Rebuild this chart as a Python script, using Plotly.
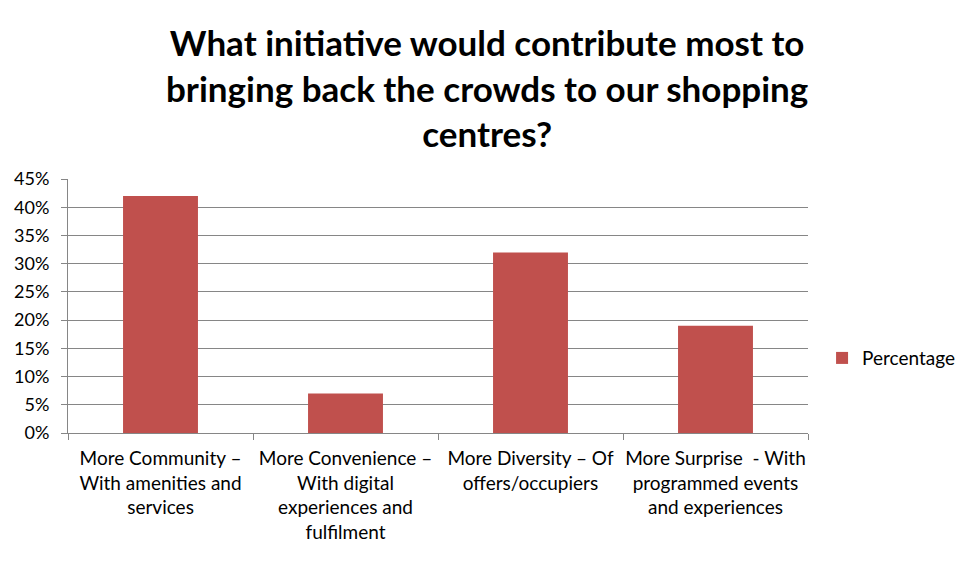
import plotly.graph_objects as go

categories = [
    "More Community –<br>With amenities and<br>services",
    "More Convenience –<br>With digital<br>experiences and<br>fulfilment",
    "More Diversity – Of<br>offers/occupiers",
    "More Surprise  - With<br>programmed events<br>and experiences",
]
values = [0.42, 0.07, 0.32, 0.19]
series_name = "Percentage"
title_text = "What initiative would contribute most to<br>bringing back the crowds to our shopping<br>centres?"

FONT = "Lato, 'Open Sans', sans-serif"

fig = go.Figure()
fig.add_trace(go.Bar(
    x=categories, y=values, name=series_name,
    marker=dict(color="#C0504D", line=dict(width=0)),
    showlegend=True,
))

# page body has an 8px margin; figure sized to fit the 974x561 window
fig.update_layout(
    width=966, height=553,
    paper_bgcolor="white", plot_bgcolor="white",
    margin=dict(l=60, r=166, t=171, b=128, autoexpand=False),
    bargap=0.595,
    font=dict(family=FONT, color="black", size=18),
    legend=dict(
        x=1.019, xanchor="left", y=0.295, yanchor="middle",
        font=dict(family=FONT, size=19),
        bgcolor="rgba(0,0,0,0)",
    ),
    annotations=[dict(
        text="<b>" + title_text + "</b>",
        x=(487 - 68) / 740, xref="paper", xanchor="center",
        y=1.63, yref="paper", yanchor="top",
        showarrow=False,
        font=dict(family=FONT, size=35, color="black"),
    )],
)

fig.update_xaxes(
    automargin=False,
    showline=True, linecolor="#868686", linewidth=1,
    ticks="outside", ticklen=6, tickcolor="#868686",
    tickson="boundaries", showgrid=False,
    tickfont=dict(family=FONT, size=19),
    tickangle=0, ticklabelstandoff=8,
)
fig.update_yaxes(
    automargin=False,
    range=[0, 0.45], dtick=0.05, tickformat=".0%",
    showline=True, linecolor="#868686", linewidth=1,
    ticks="outside", ticklen=6, tickcolor="#868686",
    showgrid=True, gridcolor="#868686", gridwidth=1,
    zeroline=False,
    tickfont=dict(family=FONT, size=18),
    ticklabelstandoff=8,
)

fig.write_html("out.html")
